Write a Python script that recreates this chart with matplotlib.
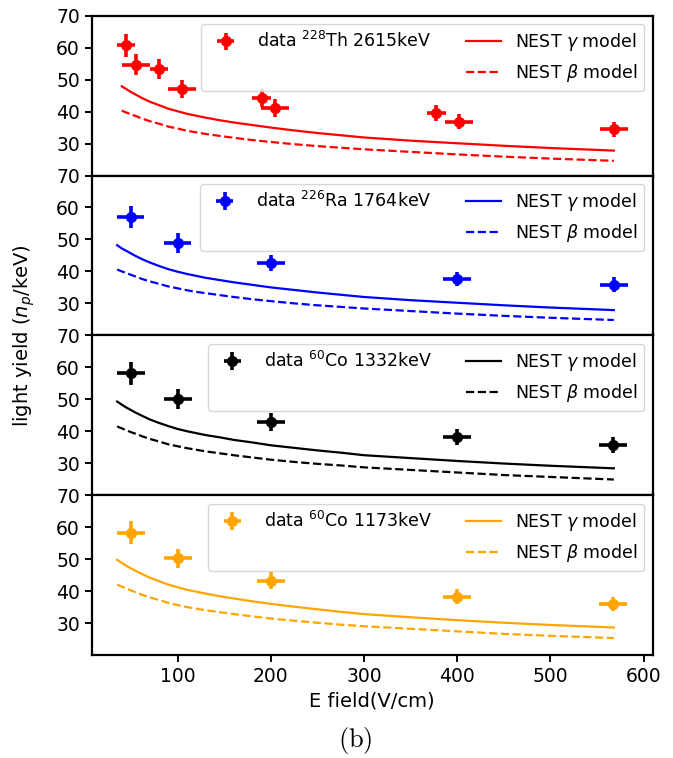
import matplotlib
matplotlib.use("Agg")
import matplotlib.pyplot as plt
from matplotlib.lines import Line2D

# ---------------- data ----------------
labels = [r"data $^{228}$Th 2615keV", r"data $^{226}$Ra 1764keV",
          r"data $^{60}$Co 1332keV", r"data $^{60}$Co 1173keV"]
colors = ["red", "blue", "black", "orange"]

th_x = [44.5, 55.5, 80, 105, 190, 204, 377.5, 402, 568]
th_y = [60.7, 54.7, 53.4, 47.0, 44.3, 41.1, 39.5, 36.8, 34.4]
th_xerr = [10, 15, 10, 15, 10, 15, 10, 15, 15]
th_yerr = [3.7, 3.4, 3.2, 2.9, 2.9, 2.7, 2.5, 2.3, 2.2]

ra_x = [49.5, 100, 200, 400, 568]
ra_y = [57.1, 48.9, 42.6, 37.6, 35.8]
ra_xerr = [14.5, 14.7, 15, 15, 15]
ra_yerr = [3.5, 3.0, 2.6, 2.3, 2.3]

co1_x = [50, 100, 200, 400, 567]
co1_y = [58.2, 50.1, 43.0, 38.1, 35.8]
co1_xerr = [15, 15, 15, 15, 15]
co1_yerr = [3.6, 3.1, 2.8, 2.5, 2.5]

co2_x = [50, 100, 200, 400, 567]
co2_y = [58.3, 50.2, 43.2, 38.3, 36.0]
co2_xerr = [15, 15, 15, 15, 15]
co2_yerr = [3.5, 3.1, 2.7, 2.4, 2.3]

# NEST model curves
curve_x = [35, 40, 45, 50, 55, 62, 70, 80, 90, 100, 110, 120, 130, 145, 160,
           180, 200, 225, 250, 275, 300, 350, 400, 450, 500, 568]
th_curve_x = [40, 45, 50, 55, 62, 70, 80, 90, 100, 110, 120, 130, 145, 160,
              180, 200, 225, 250, 275, 300, 350, 400, 450, 500, 568]

th_gamma = [47.9, 47.0, 46.1, 45.3, 44.2, 43.1, 42.0, 40.9, 40.1, 39.3, 38.7, 38.1, 37.3,
            36.6, 35.8, 35.0, 34.1, 33.3, 32.6, 31.9, 30.9, 30.1, 29.3, 28.6, 27.8]
th_beta = [40.3, 39.7, 39.1, 38.6, 37.8, 37.0, 36.2, 35.3, 34.7, 34.0, 33.5, 33.0, 32.4,
           31.8, 31.1, 30.5, 29.8, 29.2, 28.7, 28.2, 27.4, 26.6, 25.9, 25.3, 24.6]
ra_gamma = [48.2, 47.2, 46.4, 45.6, 44.8, 43.8, 42.8, 41.7, 40.7, 39.9, 39.2, 38.6, 38.0,
            37.3, 36.6, 35.8, 35.0, 34.2, 33.4, 32.7, 32.0, 31.0, 30.2, 29.4, 28.7, 27.9]
ra_beta = [40.6, 40.0, 39.5, 38.9, 38.4, 37.6, 36.9, 36.1, 35.3, 34.7, 34.1, 33.6, 33.2,
           32.6, 32.0, 31.3, 30.7, 30.0, 29.4, 28.9, 28.4, 27.6, 26.8, 26.1, 25.5, 24.8]
co1_gamma = [49.3, 48.3, 47.4, 46.6, 45.8, 44.8, 43.7, 42.6, 41.6, 40.7, 40.0, 39.4, 38.8,
             38.1, 37.3, 36.5, 35.6, 34.8, 34.0, 33.3, 32.5, 31.6, 30.7, 29.9, 29.2, 28.4]
co1_beta = [41.5, 40.9, 40.3, 39.7, 39.2, 38.4, 37.6, 36.8, 35.9, 35.3, 34.7, 34.2, 33.7,
            33.1, 32.5, 31.8, 31.1, 30.4, 29.8, 29.3, 28.7, 27.9, 27.1, 26.3, 25.7, 24.9]
co2_gamma = [49.8, 48.8, 47.9, 47.1, 46.3, 45.3, 44.2, 43.1, 42.0, 41.2, 40.4, 39.8, 39.2,
             38.4, 37.7, 36.8, 36.0, 35.1, 34.3, 33.5, 32.8, 31.8, 30.9, 30.1, 29.4, 28.6]
co2_beta = [42.0, 41.4, 40.8, 40.2, 39.6, 38.8, 38.0, 37.2, 36.3, 35.6, 35.0, 34.5, 34.0,
            33.4, 32.8, 32.1, 31.4, 30.7, 30.1, 29.5, 29.0, 28.2, 27.4, 26.6, 26.0, 25.3]

y_ticks = [30, 40, 50, 60, 70]
x_ticks = [100, 200, 300, 400, 500, 600]

panels = [
    (th_x, th_y, th_xerr, th_yerr, th_curve_x, th_gamma, th_beta),
    (ra_x, ra_y, ra_xerr, ra_yerr, curve_x, ra_gamma, ra_beta),
    (co1_x, co1_y, co1_xerr, co1_yerr, curve_x, co1_gamma, co1_beta),
    (co2_x, co2_y, co2_xerr, co2_yerr, curve_x, co2_gamma, co2_beta),
]

# ---------------- figure ----------------
fig = plt.figure(figsize=(6.73, 7.58), dpi=100)
left, right = 91.7 / 673, 652.7 / 673
top, bottom = 1 - 15.7 / 758, 1 - 655 / 758
h = (top - bottom) / 4

axes = []
for i in range(4):
    ax = fig.add_axes([left, top - (i + 1) * h, right - left, h],
                      sharex=axes[0] if axes else None)
    axes.append(ax)

for i, (ax, p) in enumerate(zip(axes, panels)):
    dx, dy, dxe, dye, cx, g, b = p
    c = colors[i]
    eb = ax.errorbar(dx, dy, xerr=dxe, yerr=dye, fmt="o", color=c,
                     markersize=7, elinewidth=2.6, capsize=0, zorder=3)
    lg, = ax.plot(cx, g, "-", color=c, lw=1.6)
    lb, = ax.plot(cx, b, "--", color=c, lw=1.6)
    blank = Line2D([], [], linestyle="none", marker=None)
    ax.legend([eb, blank, lg, lb],
              [labels[i], "", r"NEST $\gamma$ model", r"NEST $\beta$ model"],
              ncol=2, loc="upper right", fontsize=12.5)
    ax.set_ylim(20, 70)
    ax.set_yticks(y_ticks)
    ax.tick_params(labelsize=13.5, width=1.4, length=5)
    for s in ax.spines.values():
        s.set_linewidth(1.6)
    if i < 3:
        ax.tick_params(labelbottom=False)

axes[-1].set_xlim(7.7, 609.7)
axes[-1].set_xticks(x_ticks)
axes[-1].set_xlabel("E field(V/cm)", fontsize=14)

fig.text(0.036, (top + bottom) / 2, r"light yield ($n_p$/keV)",
         rotation=90, va="center", ha="center", fontsize=14)
fig.text(355 / 673, 1 - 740 / 758, r"$\mathrm{(b)}$", ha="center", va="center",
         fontsize=19, math_fontfamily="cm")

fig.savefig("out.png", dpi=100)
